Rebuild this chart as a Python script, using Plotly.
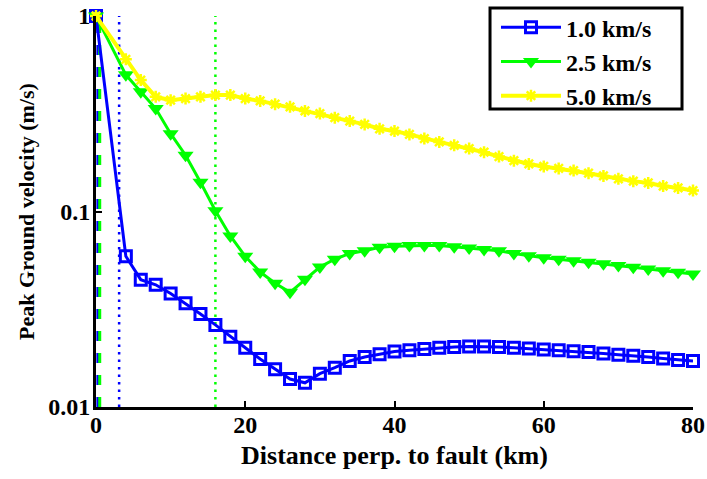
import plotly.graph_objects as go

distance_km = [0, 4, 6, 8, 10, 12, 14, 16, 18, 20, 22, 24, 26, 28, 30, 32, 34, 36, 38, 40,
               42, 44, 46, 48, 50, 52, 54, 56, 58, 60, 62, 64, 66, 68, 70, 72, 74, 76, 78, 80]

pgv_1_0 = [1.0, 0.059, 0.0448, 0.0422, 0.0381, 0.0339, 0.0299, 0.0263, 0.0229, 0.0201,
           0.0176, 0.0156, 0.0139, 0.0133, 0.0148, 0.0159, 0.0172, 0.0180, 0.0186, 0.0192,
           0.0195, 0.0198, 0.0201, 0.0203, 0.0204, 0.0204, 0.0203, 0.0201, 0.0199, 0.0197,
           0.0195, 0.0193, 0.0191, 0.0188, 0.0185, 0.0183, 0.0180, 0.0177, 0.0174, 0.0172]

pgv_2_5 = [1.0, 0.50, 0.41, 0.336, 0.25, 0.194, 0.141, 0.101, 0.075, 0.059,
           0.049, 0.043, 0.0386, 0.045, 0.052, 0.057, 0.061, 0.063, 0.0656, 0.0665,
           0.067, 0.067, 0.067, 0.066, 0.065, 0.064, 0.063, 0.061, 0.0594, 0.058,
           0.057, 0.056, 0.055, 0.054, 0.0529, 0.0518, 0.0508, 0.0498, 0.0489, 0.0479]

pgv_5_0 = [1.0, 0.60, 0.47, 0.386, 0.371, 0.378, 0.386, 0.394, 0.394, 0.378,
           0.368, 0.354, 0.343, 0.327, 0.317, 0.302, 0.290, 0.279, 0.265, 0.258,
           0.248, 0.236, 0.227, 0.218, 0.210, 0.201, 0.191, 0.182, 0.175, 0.170,
           0.166, 0.162, 0.157, 0.152, 0.147, 0.143, 0.140, 0.135, 0.132, 0.128]

series_names = ["1.0 km/s", "2.5 km/s", "5.0 km/s"]

# vertical reference lines (x positions in km)
dotted_x_blue = 3.1
dotted_x_green = 16
dashed_x_blue = 0.25
dashed_x_green = 0.5
vline_y = [0.01, 1.0]

BLUE = "rgb(0,0,255)"
GREEN = "rgb(0,255,0)"
YELLOW = "rgb(255,255,0)"
FAM = "Liberation Serif, Times New Roman, serif"
XTITLEFONT = dict(family=FAM, size=26, color="black", weight="bold")
YTITLEFONT = dict(family=FAM, size=22, color="black", weight="bold")
TICKFONT = dict(family=FAM, size=24, color="black", weight="bold")
LEGENDFONT = dict(family=FAM, size=24, color="black", weight="bold")

fig = go.Figure()

for xv, col, dash in [(dashed_x_blue, BLUE, "dash"), (dashed_x_green, GREEN, "dash"),
                      (dotted_x_blue, BLUE, "dot"), (dotted_x_green, GREEN, "dot")]:
    fig.add_trace(go.Scatter(
        x=[xv, xv], y=vline_y, mode="lines", showlegend=False, hoverinfo="skip",
        line=dict(color=col, width=3 if dash == "dash" else 2.5,
                  dash="10px,12px" if dash == "dash" else "2.5px,5px")))

fig.add_trace(go.Scatter(
    x=distance_km, y=pgv_1_0, name=series_names[0], mode="lines+markers",
    line=dict(color=BLUE, width=3),
    marker=dict(symbol="square-open", size=11, color=BLUE, line=dict(width=3, color=BLUE)),
    cliponaxis=False))
fig.add_trace(go.Scatter(
    x=distance_km, y=pgv_2_5, name=series_names[1], mode="lines+markers",
    line=dict(color=GREEN, width=3),
    marker=dict(symbol="triangle-down", size=14, color=GREEN),
    cliponaxis=False))
fig.add_trace(go.Scatter(
    x=distance_km, y=pgv_5_0, name=series_names[2], mode="lines+markers",
    line=dict(color=YELLOW, width=4),
    marker=dict(symbol="asterisk-open", size=10, color=YELLOW, line=dict(width=2.5, color=YELLOW)),
    cliponaxis=False))

# legend frame drawn as a shape so its size matches the reference box
fig.add_shape(type="rect", xref="paper", yref="paper",
              x0=0.66, x1=0.9816, y0=0.762, y1=1.0205,
              line=dict(color="black", width=3), fillcolor="white", layer="above")

fig.update_layout(
    width=707, height=479,
    margin=dict(l=96, r=14, t=16, b=72, autoexpand=False),
    paper_bgcolor="white", plot_bgcolor="white",
    font=LEGENDFONT,
    showlegend=True,
    legend=dict(
        x=0.670, y=1.0277, xanchor="left", yanchor="top",
        bgcolor="rgba(0,0,0,0)", borderwidth=0,
        font=LEGENDFONT, itemwidth=60, tracegroupgap=0,
    ),
    xaxis=dict(
        range=[0, 80], tickvals=[0, 20, 40, 60, 80], automargin=False,
        showgrid=False, zeroline=False, showline=True, linecolor="black", linewidth=3,
        ticks="inside", ticklen=6, tickwidth=2, tickcolor="black",
        tickfont=TICKFONT, ticklabelstandoff=-6,
        title=dict(text="Distance perp. to fault (km)", font=XTITLEFONT, standoff=10),
    ),
    yaxis=dict(
        type="log", range=[-2, 0], tickvals=[0.01, 0.1, 1], ticktext=["0.01", "0.1", "1"],
        automargin=False,
        showgrid=False, zeroline=False, showline=True, linecolor="black", linewidth=3,
        ticks="inside", ticklen=6, tickwidth=2, tickcolor="black",
        tickfont=TICKFONT, ticklabelstandoff=-2,
        title=dict(text="Peak Ground velocity (m/s)", font=YTITLEFONT, standoff=8),
    ),
)

fig.write_html("out.html")
